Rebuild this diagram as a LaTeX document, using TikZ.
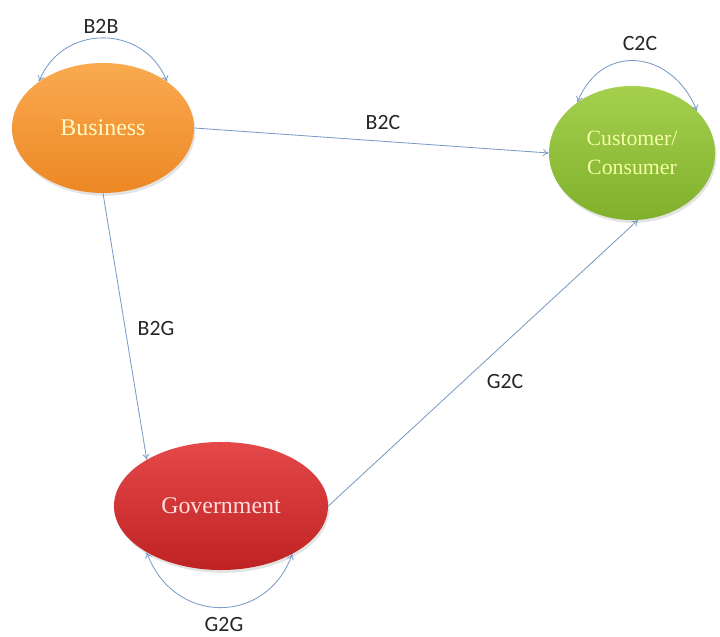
\documentclass[tikz,border=0pt]{standalone}
\usepackage{fontspec}
\setmainfont{Liberation Serif}
\newfontfamily\labelfont{Carlito}
\definecolor{bizorange}{RGB}{236, 136, 36}
\definecolor{bizlight}{RGB}{250, 170, 80}
\definecolor{custgreen}{RGB}{128, 176, 44}
\definecolor{custlight}{RGB}{164, 208, 78}
\definecolor{govred}{RGB}{190, 34, 34}
\definecolor{govlight}{RGB}{228, 72, 72}
\definecolor{linkblue}{RGB}{122, 156, 198}
\usetikzlibrary{shapes.geometric, arrows.meta, positioning, shadows}

\tikzset{
  party/.style={ellipse, draw=none, inner sep=0pt,
    drop shadow={opacity=0.22, shadow xshift=1pt, shadow yshift=-2pt},
    font=\fontsize{17}{21}\selectfont, align=center},
  link/.style={draw=linkblue, line width=0.6pt, -{To[length=4pt, width=5pt]}},
  loopback/.style={draw=linkblue, line width=0.6pt, {To[length=4pt, width=5pt]}-{To[length=4pt, width=5pt]}},
  tag/.style={font=\labelfont\fontsize{15.5}{18}\selectfont, text=black!85}
}

\begin{document}
\begin{tikzpicture}[x=0.025cm, y=0.025cm]
  \useasboundingbox (0,0) rectangle (720,636);

  % Business
  \node[party, top color=bizlight, bottom color=bizorange, text=orange!15!yellow!22,
    minimum width=4.55cm, minimum height=3.25cm] (biz) at (103,508) {Business};

  % Customer / Consumer
  \node[party, top color=custlight, bottom color=custgreen, text=green!15!yellow!35,
    minimum width=4.15cm, minimum height=3.35cm, font=\fontsize{15.5}{21}\selectfont] (cust) at (632,483) {Customer/\\Consumer};

  % Government
  \node[party, top color=govlight, bottom color=govred, text=red!12,
    minimum width=5.35cm, minimum height=3.2cm] (gov) at (221,130) {Government};

  % connectors between parties
  \draw[link] (biz.east) -- (cust.west);
  \draw[link] (biz.south) -- (gov.148);
  \draw[link] (gov.east) -- (cust.275);

  % self loops
  \draw[loopback] (biz.144) to[out=68, in=112, looseness=1.25] (biz.36);
  \draw[loopback] (cust.137) to[out=68, in=112, looseness=1.4] (cust.33);
  \draw[loopback] (gov.212) to[out=-70, in=-110, looseness=1.35] (gov.326);

  % labels
  \node[tag] (b2b) at (101,610) {B2B};
  \node[tag] (c2c) at (640,592) {C2C};
  \node[tag] (b2c) at (383,513) {B2C};
  \node[tag] (b2g) at (156,307) {B2G};
  \node[tag] (g2c) at (505,254) {G2C};
  \node[tag] (g2g) at (224,12) {G2G};
\end{tikzpicture}
\end{document}
